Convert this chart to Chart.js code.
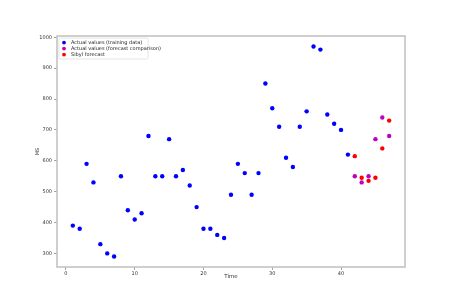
<!DOCTYPE html>
<html>
<head>
<meta charset="utf-8">
<script src="https://cdn.jsdelivr.net/npm/chart.js@4/dist/chart.umd.min.js"></script>
<style>
html,body{margin:0;padding:0;background:#fff;}
#wrap{width:450px;height:300px;}
</style>
</head>
<body>
<div id="wrap"><canvas id="c" width="450" height="300"></canvas></div>
<script>
// Data
const trainTime = [1,2,3,4,5,6,7,8,9,10,11,12,13,14,15,16,17,18,19,20,21,22,23,24,25,26,27,28,29,30,31,32,33,34,35,36,37,38,39,40,41];
const trainValues = [390,380,590,530,330,300,290,550,440,410,430,680,550,550,670,550,570,520,450,380,380,360,350,490,590,560,490,560,850,770,710,610,580,710,760,970,960,750,720,700,620];
const testTime = [42,43,44,45,46,47];
const testValues = [550,530,550,670,740,680];
const forecastValues = [615,545,535,545,640,730];
const xTicks = [0,10,20,30,40];
const yTicks = [300,400,500,600,700,800,900,1000];
const seriesNames = ['Actual values (training data)','Actual values (forecast comparison)','Sibyl forecast'];
const seriesColors = ['#0000ff','#bf00bf','#ff0000'];

const toPts = (xs, ys) => xs.map((x, i) => ({x: x, y: ys[i]}));
const FONT = 'DejaVu Sans';

const frame = {
  id: 'frame',
  afterDatasetsDraw(chart) {
    const {ctx, chartArea: a} = chart;
    ctx.save();
    ctx.strokeStyle = '#c4c4c4';
    ctx.lineWidth = 1.6;
    ctx.strokeRect(a.left, a.top, a.right - a.left, a.bottom - a.top);
    ctx.restore();
  }
};

const legendBox = {
  id: 'legendBox',
  afterDraw(chart) {
    const ctx = chart.ctx;
    const a = chart.chartArea;
    const x0 = a.left + 2, y0 = a.top + 2, w = 89, h = 21;
    ctx.save();
    ctx.fillStyle = 'rgba(255,255,255,0.85)';
    ctx.strokeStyle = '#dddddd';
    ctx.lineWidth = 0.8;
    ctx.beginPath();
    if (ctx.roundRect) ctx.roundRect(x0, y0, w, h, 1.5); else ctx.rect(x0, y0, w, h);
    ctx.fill();
    ctx.stroke();
    ctx.font = '5px "' + FONT + '"';
    ctx.textBaseline = 'middle';
    chart.data.datasets.forEach((ds, i) => {
      const cy = y0 + 4.6 + i * 6;
      ctx.fillStyle = ds.backgroundColor;
      ctx.beginPath();
      ctx.arc(x0 + 5, cy, 1.9, 0, Math.PI * 2);
      ctx.fill();
      ctx.fillStyle = '#222';
      ctx.fillText(ds.label, x0 + 12, cy);
    });
    ctx.restore();
  }
};

new Chart(document.getElementById('c'), {
  type: 'scatter',
  data: {
    datasets: [
      {label: seriesNames[0], data: toPts(trainTime, trainValues), backgroundColor: seriesColors[0], borderColor: seriesColors[0]},
      {label: seriesNames[1], data: toPts(testTime, testValues), backgroundColor: seriesColors[1], borderColor: seriesColors[1]},
      {label: seriesNames[2], data: toPts(testTime, forecastValues), backgroundColor: seriesColors[2], borderColor: seriesColors[2]}
    ]
  },
  options: {
    responsive: false,
    animation: false,
    devicePixelRatio: 1,
    layout: {padding: {left: 0, top: 36, right: 45, bottom: 0}},
    elements: {point: {radius: 2.2, borderWidth: 0, pointStyle: 'circle'}},
    plugins: {legend: {display: false}, tooltip: {enabled: false}},
    scales: {
      x: {
        type: 'linear',
        min: -1.3, max: 49.3,
        afterFit: s => { s.height = 33; },
        afterBuildTicks: s => { s.ticks = xTicks.map(v => ({value: v})); },
        grid: {display: true, drawOnChartArea: false, drawTicks: true, tickLength: 3, color: '#666', lineWidth: 0.6},
        border: {display: false},
        ticks: {font: {family: FONT, size: 5}, color: '#333', padding: 1, maxRotation: 0, autoSkip: false, callback: v => String(v)},
        title: {display: true, text: 'Time', font: {family: FONT, size: 5.5}, color: '#333', padding: {top: 0, bottom: 20}}
      },
      y: {
        type: 'linear',
        min: 256, max: 1004,
        afterFit: s => { s.width = 57; },
        afterBuildTicks: s => { s.ticks = yTicks.map(v => ({value: v})); },
        grid: {display: true, drawOnChartArea: false, drawTicks: true, tickLength: 3, color: '#666', lineWidth: 0.6},
        border: {display: false},
        ticks: {font: {family: FONT, size: 5}, color: '#333', padding: 2, autoSkip: false, callback: v => String(v)},
        title: {display: true, text: 'MS', font: {family: FONT, size: 5}, color: '#333', padding: {top: 35, bottom: 0}}
      }
    }
  },
  plugins: [frame, legendBox]
});
</script>
</body>
</html>
